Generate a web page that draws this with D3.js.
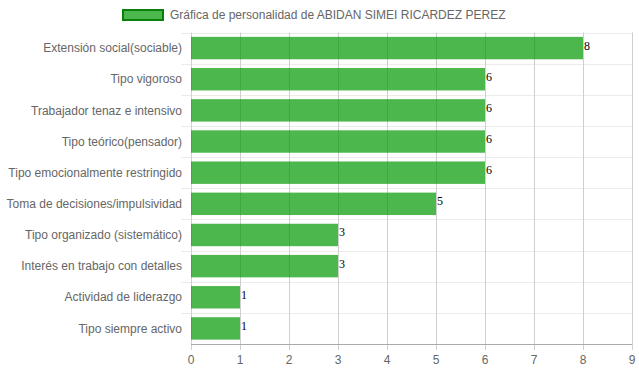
<!DOCTYPE html>
<html>
<head>
<meta charset="utf-8">
<script src="https://cdn.jsdelivr.net/npm/d3@7"></script>
<style>
	body { margin: 0; background: #fff; }
	svg text { font-family: "Liberation Sans", Arial, sans-serif; }
</style>
</head>
<body>
<div id="chart"></div>
<script>
'use strict'
var title = "Gráfica de personalidad de ABIDAN SIMEI RICARDEZ PEREZ";
var categories = [
	"Extensión social(sociable)",
	"Tipo vigoroso",
	"Trabajador tenaz e intensivo",
	"Tipo teórico(pensador)",
	"Tipo emocionalmente restringido",
	"Toma de decisiones/impulsividad",
	"Tipo organizado (sistemático)",
	"Interés en trabajo con detalles",
	"Actividad de liderazgo",
	"Tipo siempre activo"
];
var values = [8, 6, 6, 6, 6, 5, 3, 3, 1, 1];
var xTicks = [0, 1, 2, 3, 4, 5, 6, 7, 8, 9];

var w = 639, h = 372;
var margin = {top: 32.5, right: 7, bottom: 28, left: 191};
var svg = d3.select("#chart").append("svg")
	.attr("width", w).attr("height", h);

var x = d3.scaleLinear().domain([0, 9]).range([margin.left, w - margin.right]);
var y = d3.scaleBand().domain(categories)
	.range([margin.top, h - margin.bottom])
	.paddingInner(0.28).paddingOuter(0.14);
var band = d3.scaleBand().domain(categories).range([margin.top, h - margin.bottom]);

// horizontal grid lines (category boundaries)
var hLines = categories.map(function(c){ return band(c); });
hLines.push(h - margin.bottom);
svg.append("g").selectAll("line").data(hLines.slice(0, -1)).enter().append("line")
	.attr("x1", margin.left - 10).attr("x2", w - margin.right)
	.attr("y1", function(d){ return Math.round(d) + 0.5; })
	.attr("y2", function(d){ return Math.round(d) + 0.5; })
	.style("stroke", "#ebebeb").style("stroke-width", 1);

// vertical grid lines
svg.append("g").selectAll("line").data(xTicks).enter().append("line")
	.attr("x1", function(d){ return Math.round(x(d)) + 0.5; })
	.attr("x2", function(d){ return Math.round(x(d)) + 0.5; })
	.attr("y1", margin.top).attr("y2", h - margin.bottom + 6)
	.style("stroke", function(d){ return d === 0 ? "#d0d0d0" : "#cfcfcf"; })
	.style("stroke-width", 1);

// bottom axis line
svg.append("line")
	.attr("x1", margin.left).attr("x2", w - margin.right)
	.attr("y1", h - margin.bottom + 0.5).attr("y2", h - margin.bottom + 0.5)
	.style("stroke", "#aaa");

// bars
svg.append("g").selectAll("rect").data(values).enter().append("rect")
	.attr("x", x(0))
	.attr("y", function(d, i){ return y(categories[i]); })
	.attr("width", function(d){ return x(d) - x(0); })
	.attr("height", y.bandwidth())
	.style("fill", "rgb(0,153,0)").style("fill-opacity", 0.7);

// value labels
svg.append("g").selectAll("text").data(values).enter().append("text")
	.attr("x", function(d){ return x(d) + 1; })
	.attr("y", function(d, i){ return y(categories[i]) + y.bandwidth() / 2 + 1.5; })
	.style("font-family", "'Liberation Serif', 'Times New Roman', serif")
	.style("font-size", "12px").style("fill", "#000")
	.text(function(d){ return d; });

// category labels
svg.append("g").selectAll("text").data(categories).enter().append("text")
	.attr("x", margin.left - 9)
	.attr("y", function(d){ return band(d) + band.bandwidth() / 2; })
	.attr("dy", "0.35em")
	.attr("text-anchor", "end")
	.style("font-size", "12px").style("fill", "#666")
	.text(function(d){ return d; });

// x tick labels
svg.append("g").selectAll("text").data(xTicks).enter().append("text")
	.attr("x", function(d){ return x(d); })
	.attr("y", h - margin.bottom + 20)
	.attr("text-anchor", "middle")
	.style("font-size", "12px").style("fill", "#666")
	.text(function(d){ return d; });

// legend
var legend = svg.append("g");
legend.append("rect")
	.attr("x", 123).attr("y", 10).attr("width", 40).attr("height", 10)
	.style("fill", "rgb(0,153,0)").style("fill-opacity", 0.7)
	.style("stroke", "#0a7f0a").style("stroke-width", 2);
legend.append("text")
	.attr("x", 170).attr("y", 15).attr("dy", "0.35em")
	.style("font-size", "12px").style("fill", "#666")
	.text(title);
</script>
</body>
</html>
